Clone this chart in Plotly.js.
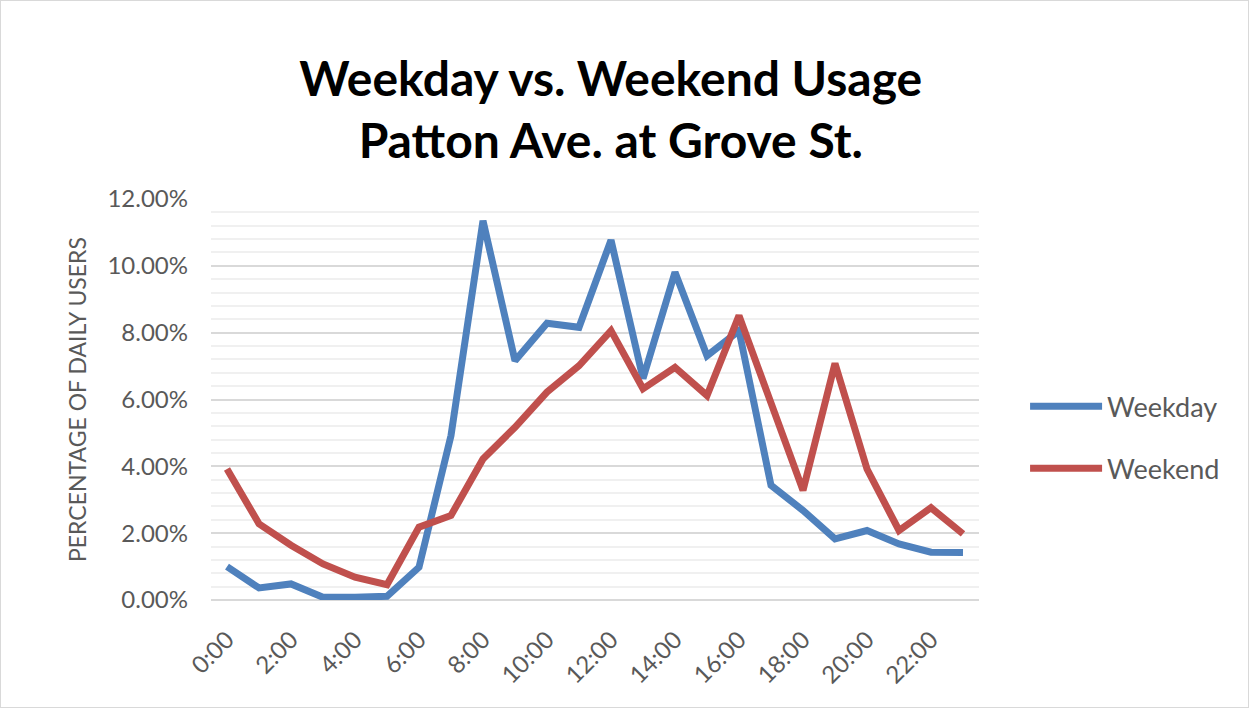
<!DOCTYPE html>
<html>
<head>
<meta charset="utf-8">
<script src="https://cdn.plot.ly/plotly-3.0.1.min.js"></script>
<style>
html,body{margin:0;padding:0;background:#fff;}
#chart{width:1247px;height:706px;border:1px solid #d9d9d9;}
</style>
</head>
<body>
<div id="chart"></div>
<script>
const hours = ["0:00","1:00","2:00","3:00","4:00","5:00","6:00","7:00","8:00","9:00","10:00","11:00",
               "12:00","13:00","14:00","15:00","16:00","17:00","18:00","19:00","20:00","21:00","22:00","23:00"];
const weekday = [1.00,0.36,0.48,0.08,0.08,0.11,0.98,4.92,11.35,7.16,8.28,8.16,
                 10.77,6.63,9.81,7.31,8.06,3.43,2.68,1.83,2.08,1.68,1.43,1.42];
const weekend = [3.92,2.28,1.64,1.08,0.68,0.46,2.18,2.53,4.22,5.17,6.22,7.01,
                 8.06,6.32,6.96,6.12,8.51,5.90,3.28,7.08,3.92,2.08,2.76,1.98];
const tickLabels = ["0:00","2:00","4:00","6:00","8:00","10:00","12:00","14:00","16:00","18:00","20:00","22:00"];
const yTicks = [0,2,4,6,8,10,12];

const pct = a => a.map(v => v/100);
const font = "Lato, 'Open Sans', sans-serif";

const traces = [
  {x: hours, y: pct(weekday), name: "Weekday", type: "scatter", mode: "lines",
   line: {color: "#4f81bd", width: 7}, legendgroup: "a"},
  {x: hours, y: pct(weekend), name: "Weekend", type: "scatter", mode: "lines",
   line: {color: "#c0504d", width: 7}, legendgroup: "b"}
];

const layout = {
  width: 1247, height: 706,
  margin: {l: 210, r: 269, t: 198, b: 107},
  paper_bgcolor: "#fff", plot_bgcolor: "#fff",
  font: {family: font, color: "#595959"},
  title: {text: "<b>Weekday vs. Weekend Usage<br>Patton Ave. at Grove St.</b>",
          font: {family: font, size: 48, color: "#000"}, x: 0.489, xanchor: "center",
          xref: "container", yref: "container", y: 0.866, yanchor: "middle"},
  xaxis: {type: "category", range: [-0.5, 23.5], tickvals: tickLabels, ticktext: tickLabels,
          tickangle: -45, tickfont: {size: 24, color: "#595959"}, showgrid: false,
          showline: false, zeroline: false, ticks: "", fixedrange: true, ticklabelstandoff: 20},
  yaxis: {range: [0, 0.12], tickvals: yTicks.map(v => v/100), tickformat: ".2%",
          tickfont: {size: 24, color: "#595959"}, gridcolor: "#d9d9d9", gridwidth: 2,
          zeroline: true, zerolinecolor: "#d9d9d9", zerolinewidth: 2, showline: false, ticks: "",
          minor: {dtick: 0.004, showgrid: true, gridcolor: "#f0f0f0", gridwidth: 2},
          title: {text: "PERCENTAGE OF DAILY USERS", font: {size: 23, color: "#595959"}, standoff: 14},
          ticklabelstandoff: 22},
  legend: {x: 1.06, xanchor: "left", y: 0.405, yanchor: "middle", font: {size: 27, color: "#595959"},
           tracegroupgap: 24, itemwidth: 72, bgcolor: "rgba(0,0,0,0)"},
  showlegend: true
};

Plotly.newPlot("chart", traces, layout, {displayModeBar: false, staticPlot: true});
</script>
</body>
</html>
